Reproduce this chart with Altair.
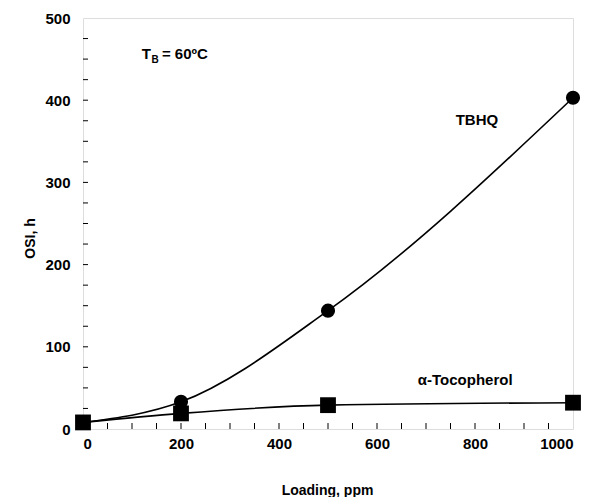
import altair as alt
import pandas as pd

loading = [0, 200, 500, 1000]
tbhq = [8, 33, 144, 403]
toco = [8, 19, 29, 32]

x_minor = list(range(50, 1000, 50))
y_minor = list(range(25, 500, 25))

df = pd.DataFrame({
    "Loading": loading * 2,
    "OSI": tbhq + toco,
    "Series": ["TBHQ"] * 4 + ["α-Tocopherol"] * 4,
})
tb = df[df.Series == "TBHQ"]
tc = df[df.Series == "α-Tocopherol"]

FONT = "Liberation Sans"
xs = alt.Scale(domain=[0, 1000], nice=False)
ys = alt.Scale(domain=[0, 500], nice=False)

X = alt.X("Loading:Q", scale=xs, axis=alt.Axis(
    title="Loading, ppm", values=[0, 200, 400, 600, 800, 1000], format="d", ticks=False, domain=False,
    grid=False, labelFont=FONT, labelFontWeight="bold", labelFontSize=15, labelColor="black",
    labelPadding=7, titleFont=FONT, titleFontWeight="bold", titleFontSize=14, titleColor="black",
    titleX=244, titleY=61, titleBaseline="middle", titleAlign="center"))
Y = alt.Y("OSI:Q", scale=ys, axis=alt.Axis(
    title="OSI, h", values=[0, 100, 200, 300, 400, 500], format="d", ticks=False, domain=False,
    grid=False, labelFont=FONT, labelFontWeight="bold", labelFontSize=15, labelColor="black",
    labelPadding=13, titleFont=FONT, titleFontWeight="bold", titleFontSize=14, titleColor="black",
    titleX=-53, titleY=220, titleAngle=270, titleBaseline="middle", titleAlign="center"))

lines = alt.Chart(df).mark_line(interpolate="monotone", color="black", strokeWidth=1.6).encode(
    x=X, y=Y, detail="Series:N")
circles = alt.Chart(tb).mark_point(shape="circle", filled=True, size=200, color="black", opacity=1).encode(
    x=alt.X("Loading:Q", scale=xs), y=alt.Y("OSI:Q", scale=ys))
squares = alt.Chart(tc).mark_point(shape="square", filled=True, size=250, color="black", opacity=1).encode(
    x=alt.X("Loading:Q", scale=xs), y=alt.Y("OSI:Q", scale=ys))

xt = alt.Chart(pd.DataFrame({"t": x_minor})).mark_rule(color="black", strokeWidth=1).encode(
    x=alt.X("t:Q", scale=xs), y=alt.value(411), y2=alt.value(405))
yt = alt.Chart(pd.DataFrame({"t": y_minor})).mark_rule(color="black", strokeWidth=1).encode(
    y=alt.Y("t:Q", scale=ys), x=alt.value(0), x2=alt.value(5))

ann_df = pd.DataFrame({
    "x": [804, 780, 120, 161],
    "y": [370, 53.5, 450, 450],
    "label": ["TBHQ", "α-Tocopherol", "T", "= 60ºC"],
})
ann_c = alt.Chart(ann_df.iloc[:2]).mark_text(font=FONT, fontWeight="bold", fontSize=15, color="black",
                                              align="center", baseline="alphabetic").encode(
    x=alt.X("x:Q", scale=xs), y=alt.Y("y:Q", scale=ys), text="label:N")
ann_l = alt.Chart(ann_df.iloc[2:]).mark_text(font=FONT, fontWeight="bold", fontSize=15, color="black",
                                             align="left", baseline="alphabetic").encode(
    x=alt.X("x:Q", scale=xs), y=alt.Y("y:Q", scale=ys), text="label:N")
sub = alt.Chart(pd.DataFrame({"x": [140], "y": [445.5], "label": ["B"]})).mark_text(
    font=FONT, fontWeight="bold", fontSize=10, color="black", align="left", baseline="alphabetic").encode(
    x=alt.X("x:Q", scale=xs), y=alt.Y("y:Q", scale=ys), text="label:N")

chart = alt.layer(lines, xt, yt, circles, squares, ann_c, ann_l, sub).properties(
    width=490, height=411,
    autosize=alt.AutoSizeParams(type="none"),
    padding={"left": 75, "top": 10, "right": 13, "bottom": 70},
).configure_view(stroke="black", strokeWidth=1.6).configure(background="white")

chart.save("out.html", embed_options={"renderer": "svg", "actions": False})
